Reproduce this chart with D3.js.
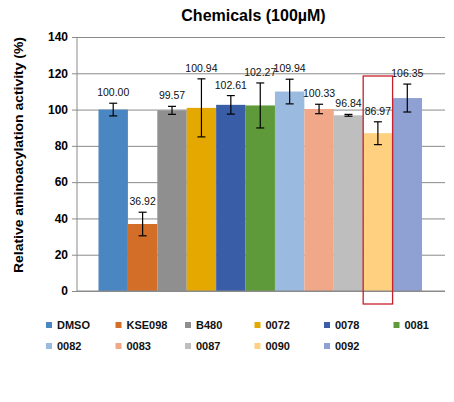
<!DOCTYPE html>
<html>
<head>
<meta charset="utf-8">
<script src="https://cdn.jsdelivr.net/npm/d3@7"></script>
<style>
  html, body { margin: 0; padding: 0; background: #fff; }
  svg { display: block; }
</style>
</head>
<body>
<svg id="chart" width="454" height="402"></svg>
<script>
// ---- data ----
const categories = ["DMSO", "KSE098", "B480", "0072", "0078", "0081", "0082", "0083", "0087", "0090", "0092"];
const values = [100.00, 36.92, 99.57, 100.94, 102.61, 102.27, 109.94, 100.33, 96.84, 86.97, 106.35];
const errors = [3.5, 6.5, 2.2, 16.0, 5.1, 12.4, 6.8, 2.6, 0.5, 6.3, 7.7];
const colors = ["#4A86C1", "#D36E28", "#8F8F8F", "#E5A800", "#3A5DA8", "#5F9A3A", "#9ABAE0", "#F0A888", "#BEBEBE", "#FFD080", "#8FA0D3"];
const yTicks = [0, 20, 40, 60, 80, 100, 120, 140];
const highlighted = "0090";
const title = "Chemicals (100\u00B5M)";
const yTitle = "Relative aminoacylation activity (%)";

// ---- layout ----
const svg = d3.select("#chart");
const plot = { left: 77, right: 445, top: 37, bottom: 291 };

const y = d3.scaleLinear().domain([0, 140]).range([plot.bottom, plot.top]);
const x = d3.scaleBand().domain(categories).range([98.5, 422]).padding(0);

// gridlines + ticks
const yAxis = d3.axisLeft(y).tickValues(yTicks).tickSize(-(plot.right - plot.left)).tickPadding(9).tickFormat(d3.format("d"));
const gy = svg.append("g").attr("transform", `translate(${plot.left},0)`).call(yAxis);
gy.select(".domain").attr("stroke", "#8a8a8a").attr("d", `M0,${plot.top}V${plot.bottom}`);
gy.selectAll(".tick line").attr("stroke", "#8a8a8a").attr("x1", -5);
gy.selectAll(".tick text")
  .attr("font-family", "Liberation Sans, Arial, sans-serif")
  .attr("font-size", 12).attr("font-weight", "bold").attr("fill", "#000");

// bars
const data = categories.map((c, i) => ({ c, v: values[i], e: errors[i], col: colors[i] }));
svg.append("g").selectAll("rect").data(data).join("rect")
  .attr("x", d => x(d.c))
  .attr("width", x.bandwidth())
  .attr("y", d => y(d.v))
  .attr("height", d => y(0) - y(d.v))
  .attr("fill", d => d.col);

// baseline
svg.append("line").attr("x1", plot.left).attr("x2", plot.right)
  .attr("y1", y(0)).attr("y2", y(0)).attr("stroke", "#8a8a8a");

// error bars
const eg = svg.append("g").attr("stroke", "#000").attr("stroke-width", 1.2);
data.forEach(d => {
  const cx = x(d.c) + x.bandwidth() / 2;
  const t = y(d.v + d.e), b = y(d.v - d.e);
  eg.append("line").attr("x1", cx).attr("x2", cx).attr("y1", t).attr("y2", b);
  eg.append("line").attr("x1", cx - 4).attr("x2", cx + 4).attr("y1", t).attr("y2", t);
  eg.append("line").attr("x1", cx - 4).attr("x2", cx + 4).attr("y1", b).attr("y2", b);
});

// value labels
svg.append("g").selectAll("text").data(data).join("text")
  .attr("x", d => x(d.c) + x.bandwidth() / 2)
  .attr("y", d => y(d.v + d.e) - 7)
  .attr("text-anchor", "middle")
  .attr("font-family", "Liberation Sans, Arial, sans-serif")
  .attr("font-size", 10.5)
  .attr("fill", "#111")
  .text(d => d3.format(".2f")(d.v));

// highlight box
svg.append("rect")
  .attr("x", x(highlighted))
  .attr("width", x.bandwidth())
  .attr("y", 76).attr("height", 228)
  .attr("fill", "none").attr("stroke", "#C8202A").attr("stroke-width", 1.3);

// title
svg.append("text").attr("x", 253.5).attr("y", 21).attr("text-anchor", "middle")
  .attr("font-family", "Liberation Sans, Arial, sans-serif")
  .attr("font-size", 16).attr("font-weight", "bold").text(title);

// y title
svg.append("text")
  .attr("transform", "translate(23,155) rotate(-90)")
  .attr("text-anchor", "middle")
  .attr("font-family", "Liberation Sans, Arial, sans-serif")
  .attr("font-size", 13.5).attr("font-weight", "bold")
  .attr("textLength", 236).attr("lengthAdjust", "spacingAndGlyphs")
  .text(yTitle);

// legend
const lg = svg.append("g");
data.forEach((d, i) => {
  const col = i % 6, row = Math.floor(i / 6);
  const lx = 46 + col * 69.5, ly = 322 + row * 21;
  lg.append("rect").attr("x", lx).attr("y", ly).attr("width", 6).attr("height", 6).attr("fill", d.col);
  lg.append("text").attr("x", lx + 11).attr("y", ly + 7)
    .attr("font-family", "Liberation Sans, Arial, sans-serif")
    .attr("font-size", 11).attr("font-weight", "bold").attr("fill", "#111")
    .text(d.c);
});
</script>
</body>
</html>
